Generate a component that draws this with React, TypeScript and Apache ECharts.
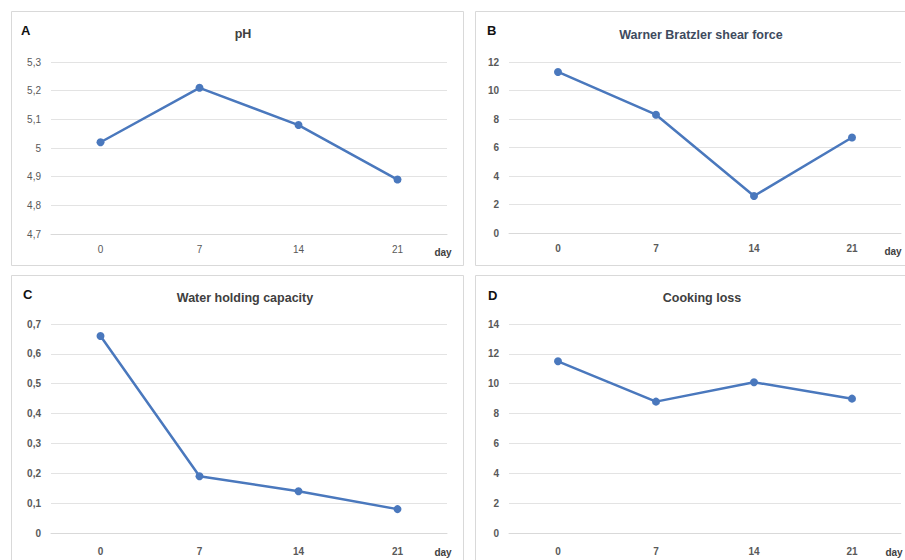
import React, { useEffect, useRef } from "react";
import * as echarts from "echarts";

const days = ["0", "7", "14", "21"];
const phValues = [5.02, 5.21, 5.08, 4.89];
const shearValues = [11.3, 8.3, 2.6, 6.7];
const whcValues = [0.66, 0.19, 0.14, 0.08];
const cookingValues = [11.5, 8.8, 10.1, 9.0];
const panelTitles = ["pH", "Warner Bratzler shear force", "Water holding capacity", "Cooking loss"];
const panelLetters = ["A", "B", "C", "D"];
const xAxisName = "day";

const LINE = "#4a78bd";
const fmt = (v: number) => String(Math.round(v * 100) / 100).replace(".", ",");

export default function App() {
  const ref = useRef<HTMLDivElement>(null);
  useEffect(() => {
    if (!ref.current) return;
    const chart = echarts.init(ref.current, null, { renderer: "svg" });
    const grids = [
      { left: 51, top: 62, width: 396, height: 172 },
      { left: 509, top: 62, width: 392, height: 171 },
      { left: 51, top: 324, width: 396, height: 209 },
      { left: 509, top: 324, width: 392, height: 209 },
    ];
    const yCfg = [
      { min: 4.7, max: 5.3, interval: 0.1, bold: false },
      { min: 0, max: 12, interval: 2, bold: true },
      { min: 0, max: 0.7, interval: 0.1, bold: true },
      { min: 0, max: 14, interval: 2, bold: true },
    ];
    const data = [phValues, shearValues, whcValues, cookingValues];
    const titleCenters = [
      { x: 238, y: 22 },
      { x: 696, y: 23 },
      { x: 240, y: 286 },
      { x: 697, y: 286 },
    ];
    const letterPos = [
      { x: 21, y: 30 },
      { x: 487, y: 30 },
      { x: 23, y: 294 },
      { x: 488, y: 295 },
    ];
    const dayPos = [
      { x: 443, y: 252 },
      { x: 893, y: 251 },
      { x: 443, y: 552 },
      { x: 894, y: 552 },
    ];
    const borders = [
      { x: 11, y: 11, w: 452, h: 254 },
      { x: 475, y: 11, w: 440, h: 254 },
      { x: 11, y: 275, w: 452, h: 300 },
      { x: 475, y: 275, w: 440, h: 300 },
    ];
    const graphic: any[] = [];
    borders.forEach((b) =>
      graphic.push({
        type: "rect",
        silent: true,
        z: -10,
        shape: { x: b.x + 0.5, y: b.y + 0.5, width: b.w, height: b.h },
        style: { fill: "#ffffff", stroke: "#d9d9d9", lineWidth: 1 },
      })
    );
    letterPos.forEach((p, i) =>
      graphic.push({
        type: "text",
        x: p.x,
        y: p.y,
        style: {
          text: panelLetters[i],
          font: "bold 13px 'Liberation Sans', Arial, sans-serif",
          fill: "#111111",
          verticalAlign: "middle",
        },
      })
    );
    dayPos.forEach((p) =>
      graphic.push({
        type: "text",
        x: p.x,
        y: p.y,
        style: {
          text: xAxisName,
          font: "bold 10px 'Liberation Sans', Arial, sans-serif",
          fill: "#404040",
          align: "center",
          verticalAlign: "middle",
        },
      })
    );
    chart.setOption({
      animation: false,
      backgroundColor: "#ffffff",
      title: panelTitles.map((t, i) => ({
        text: t,
        left: titleCenters[i].x,
        top: titleCenters[i].y,
        textAlign: "center",
        textStyle: {
          fontFamily: "'Liberation Sans', Arial, sans-serif",
          fontSize: 12.5,
          fontWeight: "bold",
          color: i === 1 ? "#3e4b5e" : "#404040",
        },
      })),
      grid: grids,
      xAxis: grids.map((_, i) => ({
        type: "category",
        gridIndex: i,
        data: days,
        boundaryGap: true,
        axisLine: { show: true, lineStyle: { color: "#d9d9d9" } },
        axisTick: { show: false },
        axisLabel: {
          margin: i < 2 ? 10 : 13,
          fontSize: 10,
          fontWeight: yCfg[i].bold ? "bold" : "normal",
          color: "#595959",
          fontFamily: "'Liberation Sans', Arial, sans-serif",
        },
      })),
      yAxis: grids.map((_, i) => ({
        type: "value",
        gridIndex: i,
        min: yCfg[i].min,
        max: yCfg[i].max,
        interval: yCfg[i].interval,
        axisLine: { show: false },
        axisTick: { show: false },
        splitLine: { lineStyle: { color: "#e3e3e3" } },
        axisLabel: {
          margin: 10,
          fontSize: 10,
          fontWeight: yCfg[i].bold ? "bold" : "normal",
          color: "#595959",
          fontFamily: "'Liberation Sans', Arial, sans-serif",
          formatter: fmt,
        },
      })),
      series: data.map((d, i) => ({
        type: "line",
        xAxisIndex: i,
        yAxisIndex: i,
        data: d,
        symbol: "circle",
        symbolSize: 8,
        lineStyle: { color: LINE, width: 2.5 },
        itemStyle: { color: LINE },
      })),
      graphic,
    });
    return () => chart.dispose();
  }, []);
  return (
    <div
      ref={ref}
      style={{ position: "fixed", left: 0, top: 0, width: 905, height: 560, background: "#fff" }}
    />
  );
}
